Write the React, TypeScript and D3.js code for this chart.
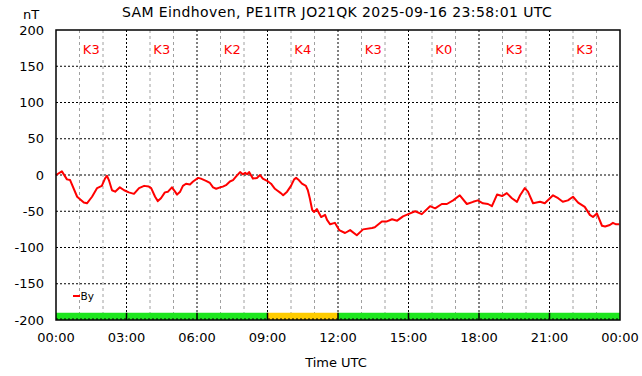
import * as d3 from 'd3';

// minutes since 00:00 UTC and By value (nT)
const minutes = [
  0, 15, 28, 36, 54, 71, 79, 92, 105, 117, 125, 130, 135, 143, 151, 163, 174, 186, 199, 212,
  225, 237, 243, 253, 260, 268, 278, 286, 296, 304, 309, 317, 324, 332, 342, 350, 363, 370, 383, 393,
  401, 409, 419, 426, 434, 444, 452, 460, 470, 477, 483, 488, 493, 503, 513, 521, 528, 539, 549, 559,
  564, 574, 580, 590, 600, 608, 613, 620, 628, 638, 643, 648, 654, 659, 666, 671, 677, 687, 692, 700,
  712, 723, 738, 751, 768, 784, 807, 814, 832, 845, 858, 871, 886, 904, 917, 934, 955, 968, 985, 998,
  1014, 1031, 1049, 1065, 1077, 1090, 1103, 1113, 1126, 1139, 1151, 1164, 1177, 1185, 1197, 1205, 1218, 1236, 1248, 1269,
  1282, 1294, 1307, 1320, 1333, 1350, 1363, 1371, 1381, 1394, 1402, 1414, 1422, 1430, 1438,
];
const byValues = [
  0, 5, -6, -7, -30, -38, -39, -30, -18, -15, -5, -1, -7, -21, -23, -17, -21, -24, -26, -18,
  -15, -16, -18, -30, -36, -32, -24, -23, -17, -23, -27, -23, -15, -12, -13, -9, -4, -5, -8, -11,
  -17, -19, -17, -16, -14, -9, -7, -2, 4, 1, 3, 1, 4, -5, -4, 0, -5, -8, -12, -19,
  -21, -25, -28, -23, -15, -6, -4, -7, -12, -15, -21, -32, -48, -51, -47, -52, -58, -55, -62, -68,
  -66, -76, -80, -76, -83, -75, -73, -72, -64, -64, -61, -63, -57, -53, -50, -54, -43, -46, -40, -40,
  -35, -28, -40, -37, -35, -39, -40, -43, -27, -29, -25, -32, -37, -28, -18, -23, -39, -37, -39, -28,
  -32, -37, -35, -30, -38, -44, -55, -58, -53, -70, -71, -69, -66, -68, -68,
];
const kIndex = [3, 3, 2, 4, 3, 0, 3, 3];
const xTickLabels = ['00:00', '03:00', '06:00', '09:00', '12:00', '15:00', '18:00', '21:00', '00:00'];
const yTicks = [200, 150, 100, 50, 0, -50, -100, -150, -200];

const W = 642;
const H = 376;
const margin = { top: 30, right: 22, bottom: 56, left: 56 };
const FONT = 'DejaVu Sans, sans-serif';

export default function App() {
  const x = d3.scaleLinear().domain([0, 1440]).range([margin.left, W - margin.right]);
  const y = d3.scaleLinear().domain([-200, 200]).range([H - margin.bottom, margin.top]);
  const pts = minutes.map((m, i) => [m, byValues[i]] as [number, number]);
  const line = d3.line<[number, number]>().x(d => x(d[0])).y(d => y(d[1]));
  const hours = d3.range(0, 25);
  const x0 = x(0), x1 = x(1440), y0 = y(-200), y1 = y(200);

  return (
    <svg width={W} height={H} style={{ position: 'absolute', left: 0, top: 0, background: '#fff' }} fontFamily={FONT}>
      <rect x={0} y={0} width={W} height={H} fill="#fff" />
      {/* minor hourly grid */}
      {hours.filter(h => h % 3 !== 0).map(h => (
        <line key={'m' + h} x1={x(h * 60)} x2={x(h * 60)} y1={y1} y2={y0} stroke="#a0a0a0" strokeWidth={1} strokeDasharray="3,3" />
      ))}
      {/* major grid */}
      {hours.filter(h => h % 3 === 0 && h > 0 && h < 24).map(h => (
        <line key={'M' + h} x1={x(h * 60)} x2={x(h * 60)} y1={y1} y2={y0} stroke="#000" strokeWidth={1} strokeDasharray="2,2" />
      ))}
      {yTicks.filter(v => v !== 200 && v !== -200).map(v => (
        <line key={'y' + v} x1={x0} x2={x1} y1={y(v)} y2={y(v)} stroke="#000" strokeWidth={1} strokeDasharray="2,2" />
      ))}
      {/* K index bar */}
      {kIndex.map((k, i) => (
        <rect key={'k' + i} x={x(i * 180)} y={y(-190)} width={x((i + 1) * 180) - x(i * 180)} height={y(-200) - y(-190)}
          fill={k >= 4 ? '#ffcc00' : '#1ee61e'} />
      ))}
      <line x1={x0} x2={x1} y1={y(-200) - 1} y2={y(-200) - 1} stroke="#000" strokeWidth={1} strokeDasharray="2,2" />
      {kIndex.map((k, i) => i > 0 ? (
        <line key={'kd' + i} x1={x(i * 180)} x2={x(i * 180)} y1={y(-190)} y2={y0} stroke="#000" strokeWidth={1.5} />
      ) : null)}
      {kIndex.map((k, i) => (
        <text key={'kt' + i} x={x(i * 180 + 90)} y={54} textAnchor="middle" fontSize={13} fill="#ff0000">K{k}</text>
      ))}
      {/* data */}
      <path d={line(pts) || ''} fill="none" stroke="#ff0000" strokeWidth={2} strokeLinejoin="round" />
      {/* frame */}
      <rect x={x0} y={y1} width={x1 - x0} height={y0 - y1} fill="none" stroke="#000" strokeWidth={1.5} />
      {/* y tick labels */}
      {yTicks.map(v => (
        <text key={'yl' + v} x={44} y={y(v) + 4.5} textAnchor="end" fontSize={13} fill="#000">{v}</text>
      ))}
      {xTickLabels.map((t, i) => (
        <text key={'xl' + i} x={x(i * 180)} y={342} textAnchor="middle" fontSize={13} fill="#000">{t}</text>
      ))}
      {/* legend */}
      <line x1={73} x2={80} y1={296} y2={296} stroke="#ff0000" strokeWidth={2} />
      <text x={80.5} y={300} fontSize={10.5} fill="#000">By</text>
      {/* titles */}
      <text x={337} y={17} textAnchor="middle" fontSize={14} letterSpacing={0.4} fill="#000">SAM Eindhoven, PE1ITR JO21QK 2025-09-16 23:58:01 UTC</text>
      <text x={23} y={19} fontSize={13} fill="#000">nT</text>
      <text x={336} y={367} textAnchor="middle" fontSize={13} fill="#000">Time UTC</text>
    </svg>
  );
}
